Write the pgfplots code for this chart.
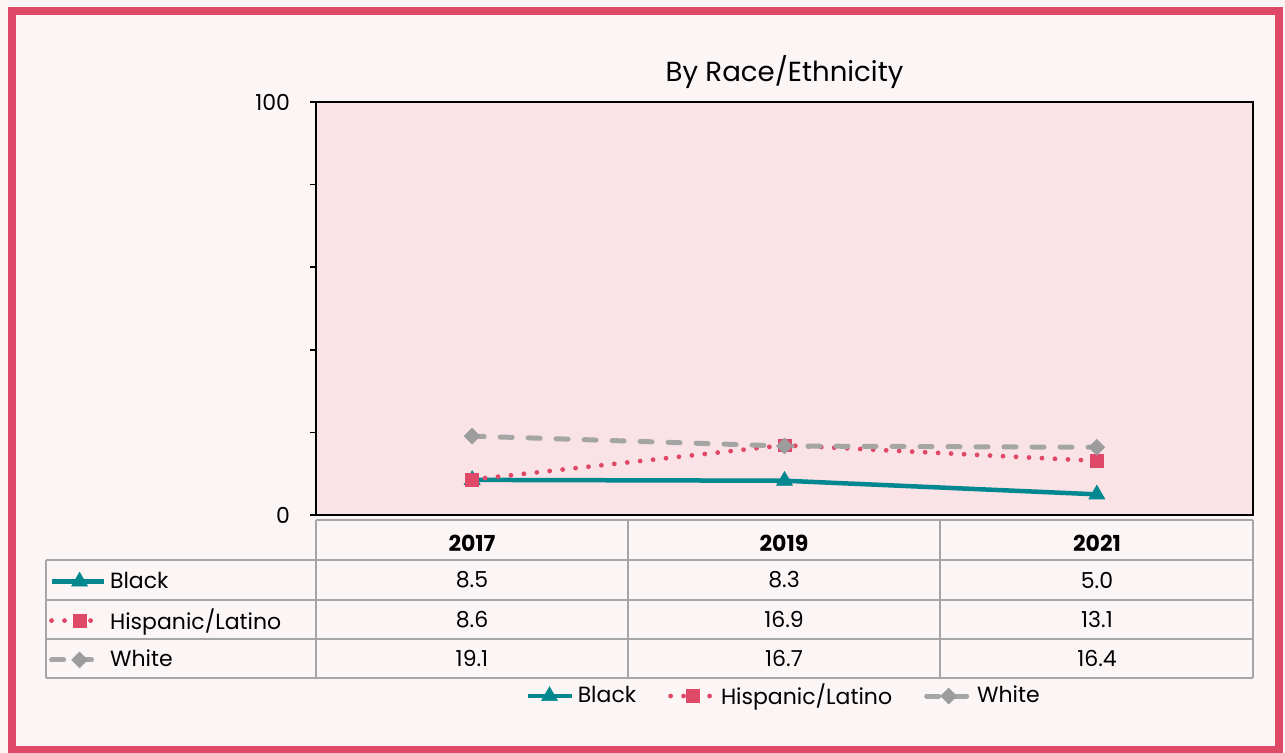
\documentclass[border=0pt]{standalone}
\usepackage{fontspec}
\setmainfont{Poppins}
\usepackage{pgfplots}
\pgfplotsset{compat=1.18}
\definecolor{bg}{HTML}{FCF5F5}
\definecolor{plotbg}{HTML}{FAE3E6}
\definecolor{framec}{HTML}{E04868}
\definecolor{cteal}{HTML}{00878F}
\definecolor{cred}{HTML}{E04868}
\definecolor{cgray}{HTML}{A5A5A5}
\definecolor{cgrayd}{HTML}{9C9C9C}
\definecolor{gridgray}{HTML}{A6A6A6}
\newcommand{\fs}{\fontsize{11}{13}\selectfont}
\pgfplotsset{
  blackstyle/.style={color=cteal, line width=2.25pt, mark=triangle*, mark size=4.6pt, mark options={solid, line width=0.3pt}},
  hispstyle/.style={color=cred, line width=2.4pt, line cap=round, dash pattern=on 0pt off 6.5pt, mark=square*, mark size=3.2pt, mark options={solid, line width=0.3pt}},
  whitestyle/.style={color=cgray, line width=2.5pt, line cap=round, dash pattern=on 6pt off 8pt, mark=square*, mark size=2.8pt, mark options={solid, rotate=45, line width=0.3pt, fill=cgrayd, draw=cgrayd}},
  mylegimg/.style={legend image code/.code={\draw[mark repeat=2,mark phase=2,##1] plot coordinates {(0pt,0pt) (11pt,0pt) (22pt,0pt)};}},
  tablegimg/.style={legend image code/.code={\draw[mark repeat=2,mark phase=2,##1] plot coordinates {(0pt,0pt) (14pt,0pt) (26pt,0pt)};}},
}
\pgfplotstableread{
x black hisp white
0 8.5 8.6 19.1
1 8.3 16.9 16.7
2 5.0 13.1 16.4
}\datatable
\begin{document}
\begin{tikzpicture}
\begin{scope}[x=0.5pt,y=-0.5pt]
\fill[bg] (0,0) rectangle (1285,753);
\draw[framec, line width=4pt] (12,11) rectangle (1279,750);
\end{scope}
\begin{axis}[
  at={(158pt,-257.5pt)}, anchor=south west, scale only axis,
  width=468.5pt, height=206.5pt,
  xmin=-0.5, xmax=2.5, ymin=0, ymax=100,
  xtick=\empty, ytick={0,20,40,60,80,100}, yticklabels={0,,,,,100},
  ytick pos=left, tick align=outside, major tick length=3pt,
  axis line style={black, line width=0.9pt}, tick style={black, line width=0.9pt},
  axis background/.style={fill=plotbg},
  clip=false,
  /pgf/number format/assume math mode=true,
  yticklabel style={font=\fs, black, xshift=-6.5pt},
  title={By Race/Ethnicity},
  title style={font=\fontsize{13.8}{16}\selectfont, at={(0.5,1)}, anchor=base, yshift=4pt},
  mylegimg,
  legend columns=3,
  legend style={at={(0.5,-0.4383)}, anchor=center, draw=none, fill=none, font=\fs,
    cells={anchor=west},
    /tikz/every even column/.append style={column sep=14pt}},
]
\addplot[blackstyle] table[x=x, y=black] {\datatable};
\addlegendentry{Black}
\addplot[hispstyle] table[x=x, y=hisp] {\datatable};
\addlegendentry{Hispanic/Latino}
\addplot[whitestyle] table[x=x, y=white] {\datatable};
\addlegendentry{White}
\end{axis}
\begin{axis}[
  at={(158pt,-257.5pt)}, anchor=south west, scale only axis,
  width=468.5pt, height=206.5pt,
  xmin=-0.5, xmax=2.5, ymin=0, ymax=100, hide axis,
  tablegimg,
  legend columns=1,
  legend style={at={(-0.2853,-0.127)}, anchor=north west, draw=none, fill=none, font=\fs,
    cells={anchor=west}, row sep=4.8pt, inner sep=0pt},
]
\addlegendimage{blackstyle}
\addlegendentry{Black}
\addlegendimage{hispstyle}
\addlegendentry{Hispanic/Latino}
\addlegendimage{whitestyle}
\addlegendentry{White}
\end{axis}
\begin{scope}[x=0.5pt,y=-0.5pt]
\begin{scope}[gridgray, line width=1pt]
\draw (316,520) -- (1253,520);
\foreach \yy in {560,600,639,678} {\draw (46,\yy) -- (1253,\yy);}
\foreach \xx in {316,628,940,1253} {\draw (\xx,520) -- (\xx,678);}
\draw (46,560) -- (46,678);
\end{scope}
\node[font=\fs\bfseries] at (472,543) {2017};
\node[font=\fs\bfseries] at (784,543) {2019};
\node[font=\fs\bfseries] at (1097,543) {2021};
\node[font=\fs] at (472,580) {8.5};
\node[font=\fs] at (784,580) {8.3};
\node[font=\fs] at (1097,580) {5.0};
\node[font=\fs] at (472,619.5) {8.6};
\node[font=\fs] at (784,619.5) {16.9};
\node[font=\fs] at (1097,619.5) {13.1};
\node[font=\fs] at (472,658.5) {19.1};
\node[font=\fs] at (784,658.5) {16.7};
\node[font=\fs] at (1097,658.5) {16.4};
\pgfresetboundingbox
\path[use as bounding box] (0,0) rectangle (1285,753);
\end{scope}
\end{tikzpicture}
\end{document}
